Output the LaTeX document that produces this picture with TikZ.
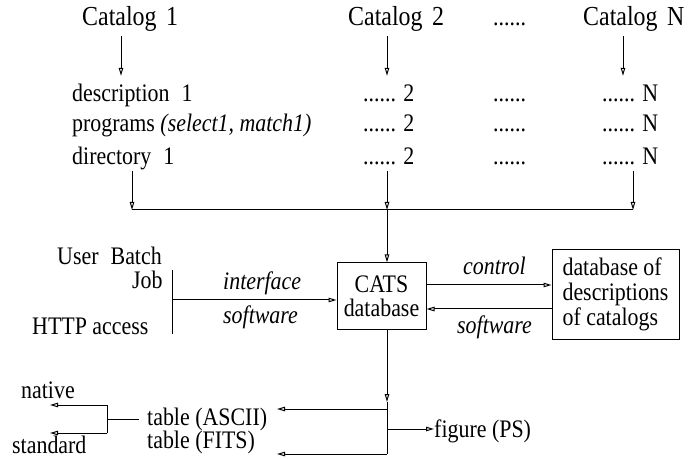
\documentclass[tikz,border=0pt]{standalone}
\usepackage{fontspec}
\setmainfont{Liberation Serif}
\usetikzlibrary{arrows.meta}
\newcommand{\gap}{\hspace{0.55em}}

\begin{document}
\begin{tikzpicture}[
    x=1bp, y=-1bp,
    font=\fontsize{22}{25}\selectfont,
    txt/.style={
      inner sep=0pt,
      anchor=base west,
      yscale=1.15,
      text height=13bp,
      text depth=4bp
    },
    cattxt/.style={
      txt,
      font=\fontsize{24}{26}\selectfont
    },
    lbl/.style={
      txt,
      font=\fontsize{22}{25}\selectfont\itshape
    },
    box/.style={
      rectangle,
      draw=black,
      line width=1bp,
      yscale=1.15,
      inner sep=4bp
    },
    arrow/.style={
      line width=1bp,
      -{Triangle[open,length=8bp,width=4.5bp]}
    },
    wire/.style={
      line width=1bp
    }
  ]

    \useasboundingbox (0,0) rectangle (688,459);

    % Top row: the catalogs
    \node[cattxt] (cat1) at (82,26) {Catalog\hspace{0.4em}1};
    \node[cattxt] (cat2) at (348,26) {Catalog\hspace{0.4em}2};
    \node[txt] (catdots) at (493,26) {......};
    \node[cattxt] (catN) at (583,26) {Catalog\hspace{0.4em}N};

    % What each catalog holds
    \node[txt] (desc1) at (72,102) {description\gap 1};
    \node[txt] (prog1) at (72,132) {programs \textit{(select1, match1)}};
    \node[txt] (dir1) at (72,165) {directory\gap 1};
    \foreach \row/\y in {a/102,b/132,c/165} {
      \node[txt] (two\row) at (363,\y) {...... 2};
      \node[txt] (mid\row) at (493,\y) {......};
      \node[txt] (enn\row) at (602,\y) {...... N};
    }

    % Arrows from the catalogs
    \coordinate (a1) at (121,0);
    \coordinate (a2) at (387,0);
    \coordinate (aN) at (623,0);
    \draw[arrow, shorten <=5bp, shorten >=11bp] (cat1.south -| a1) -- (desc1.north -| a1);
    \draw[arrow, shorten <=5bp, shorten >=11bp] (cat2.south -| a2) -- (twoa.north -| a2);
    \draw[arrow, shorten <=5bp, shorten >=11bp] (catN.south -| aN) -- (enna.north -| aN);

    % Collecting line into CATS
    \coordinate (join) at (387,210);
    \coordinate (b1) at (132,0);
    \coordinate (bN) at (633,0);
    \draw[arrow, shorten <=1bp] (dir1.south -| b1) -- (join -| b1);
    \draw[arrow, shorten <=1bp] (twoc.south -| join) -- (join);
    \draw[arrow, shorten <=1bp] (ennc.south -| bN) -- (join -| bN);
    \draw[wire] (join -| b1) -- (join -| bN);

    % Middle row: CATS and the description database
    \node[box, minimum width=89bp, minimum height=57.4bp, align=center,
      font=\fontsize{22}{21}\selectfont] (cats) at (381.5,296) {CATS\\database};
    \node[box, minimum width=127bp, minimum height=77.4bp, align=left,
      font=\fontsize{22}{21.7}\selectfont]
      (descdb) at (615.5,294.5) {database of\\descriptions\\of catalogs};
    \draw[arrow] (join) -- (join |- cats.north);

    % User access on the left
    \node[txt] (user) at (57,265) {User\gap Batch};
    \node[txt] (job) at (132,289) {Job};
    \node[txt] (http) at (32,335) {HTTP access};
    \coordinate (bartop) at (172,270);
    \coordinate (barbot) at (172,334);
    \coordinate (ifc) at (172,300);
    \draw[wire] (bartop) -- (barbot);
    \draw[arrow] (ifc) -- (ifc -| cats.west);
    \node[lbl] (ifctop) at (223,290) {interface};
    \node[lbl] (ifcbot) at (223,324) {software};

    % Control and software between the two databases
    \coordinate (ctl) at (0,285);
    \coordinate (sw) at (0,309);
    \draw[arrow] (cats.east |- ctl) -- (descdb.west |- ctl);
    \draw[arrow] (descdb.west |- sw) -- (cats.east |- sw);
    \node[lbl] (ctltxt) at (463,275) {control};
    \node[lbl] (swtxt) at (457,334) {software};

    % Bottom row: outputs
    \node[txt] (fig) at (434,437) {figure (PS)};
    \node[txt] (ascii) at (147,425) {table (ASCII)};
    \node[txt] (fits) at (147,448) {table (FITS)};
    \node[txt] (native) at (21,398) {native};
    \node[txt] (std) at (12,453) {standard};
    \coordinate (split) at (387,402);
    \coordinate (tabA) at (387,409);
    \coordinate (figc) at (387,429);
    \coordinate (tabF) at (387,454);
    \coordinate (lt) at (277,0);
    \draw[arrow] (cats.south -| split) -- (split);
    \draw[wire] (split) -- (tabF);
    \draw[arrow] (tabA) -- (tabA -| lt);
    \draw[arrow] (tabF) -- (tabF -| lt);
    \draw[arrow] (figc) -- (figc -| fig.west);

    % ASCII format choice
    \coordinate (br) at (107,419);
    \coordinate (nt) at (50,405);
    \coordinate (st) at (50,433);
    \draw[wire, shorten >=8bp] (br) -- (br -| ascii.west);
    \draw[arrow] (br |- st) |- (nt);
    \draw[arrow] (br |- st) -- (st);

  \end{tikzpicture}
\end{document}
